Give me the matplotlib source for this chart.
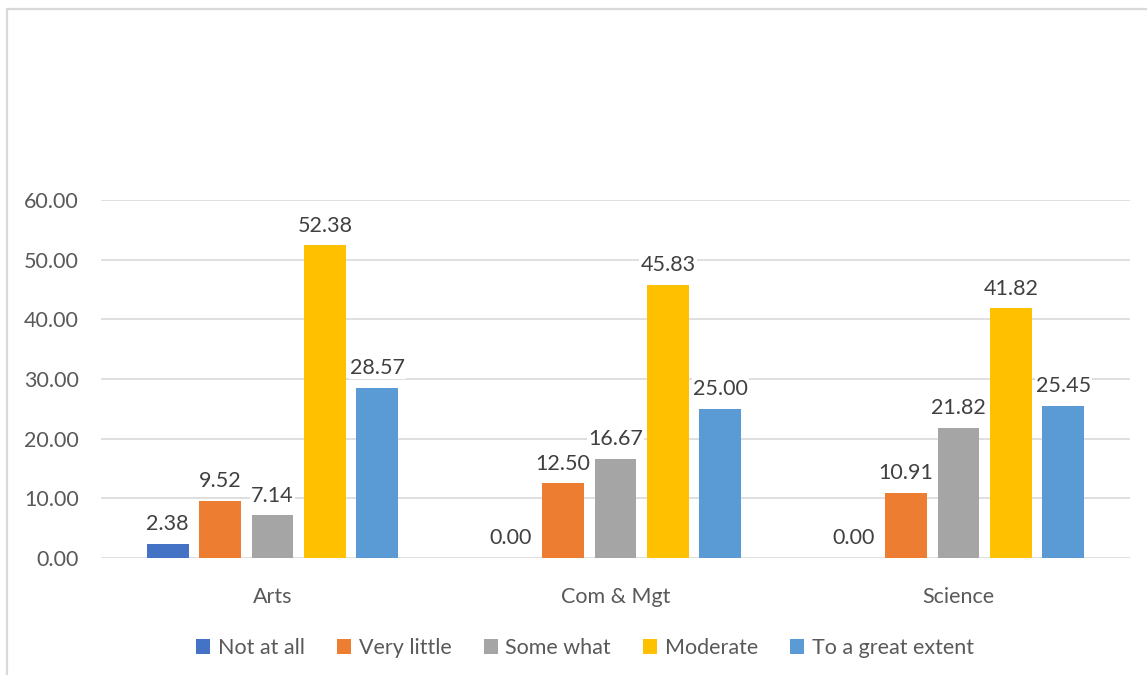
import numpy as np
import matplotlib
matplotlib.use("Agg")
import matplotlib.pyplot as plt
from matplotlib.patches import Rectangle

plt.rcParams['font.family'] = ['Lato', 'DejaVu Sans']

# data
streams = ["Arts", "Com & Mgt", "Science"]
levels = ["Not at all", "Very little", "Some what", "Moderate", "To a great extent"]
not_at_all = [2.38, 0.00, 0.00]
very_little = [9.52, 12.50, 10.91]
some_what = [7.14, 16.67, 21.82]
moderate = [52.38, 45.83, 41.82]
great_extent = [28.57, 25.00, 25.45]
y_ticks = [0, 10, 20, 30, 40, 50, 60]

series = [not_at_all, very_little, some_what, moderate, great_extent]
colors = ['#4472C4', '#ED7D31', '#A5A5A5', '#FFC000', '#5B9BD5']
fs = 15.5

fig = plt.figure(figsize=(11.47, 6.75), dpi=100)
ax = fig.add_axes([101 / 1147, 1 - 558 / 675, (1130 - 101) / 1147, (558 - 200) / 675])

# outer chart border (only left and top edges are visible in the crop)
fig.patches.append(Rectangle((7 / 1147, -0.2), 1.2, 1.2 - 9 / 675,
                             transform=fig.transFigure, fill=False,
                             edgecolor='#D9D9D9', linewidth=1.6))

x = np.arange(len(streams))
bar_w = 0.1224
step = 0.153

for i, (vals, col, name) in enumerate(zip(series, colors, levels)):
    pos = x + (i - 2) * step
    bars = ax.bar(pos, vals, width=bar_w, color=col, label=name, zorder=3)
    for b, v in zip(bars, vals):
        ax.annotate(f"{v:.2f}", (b.get_x() + b.get_width() / 2, v),
                    xytext=(0, 7), textcoords='offset points',
                    ha='center', va='bottom', fontsize=fs, color='#404040',
                    annotation_clip=False, zorder=4,
                    bbox=dict(facecolor='white', edgecolor='none', pad=1.0))

ax.set_xlim(-0.5, 2.5)
ax.set_ylim(0, 60)
ax.set_yticks(y_ticks)
ax.set_yticklabels([f"{t:.2f}" for t in y_ticks])
ax.set_xticks(x)
ax.set_xticklabels(streams)
ax.tick_params(axis='both', length=0, labelsize=fs, labelcolor='#595959')
ax.tick_params(axis='y', pad=16)
ax.tick_params(axis='x', pad=21)
ax.grid(axis='y', color='#D9D9D9', linewidth=1.2, zorder=0)
ax.set_axisbelow(True)
for s in ax.spines.values():
    s.set_visible(False)

leg = fig.legend(loc='center', bbox_to_anchor=(585 / 1147, 1 - 648 / 675), ncol=5,
                 frameon=False, fontsize=fs, handlelength=0.65, handleheight=0.65,
                 handletextpad=0.35, columnspacing=1.5)
for t in leg.get_texts():
    t.set_color('#595959')

fig.savefig('out.png', dpi=100)
